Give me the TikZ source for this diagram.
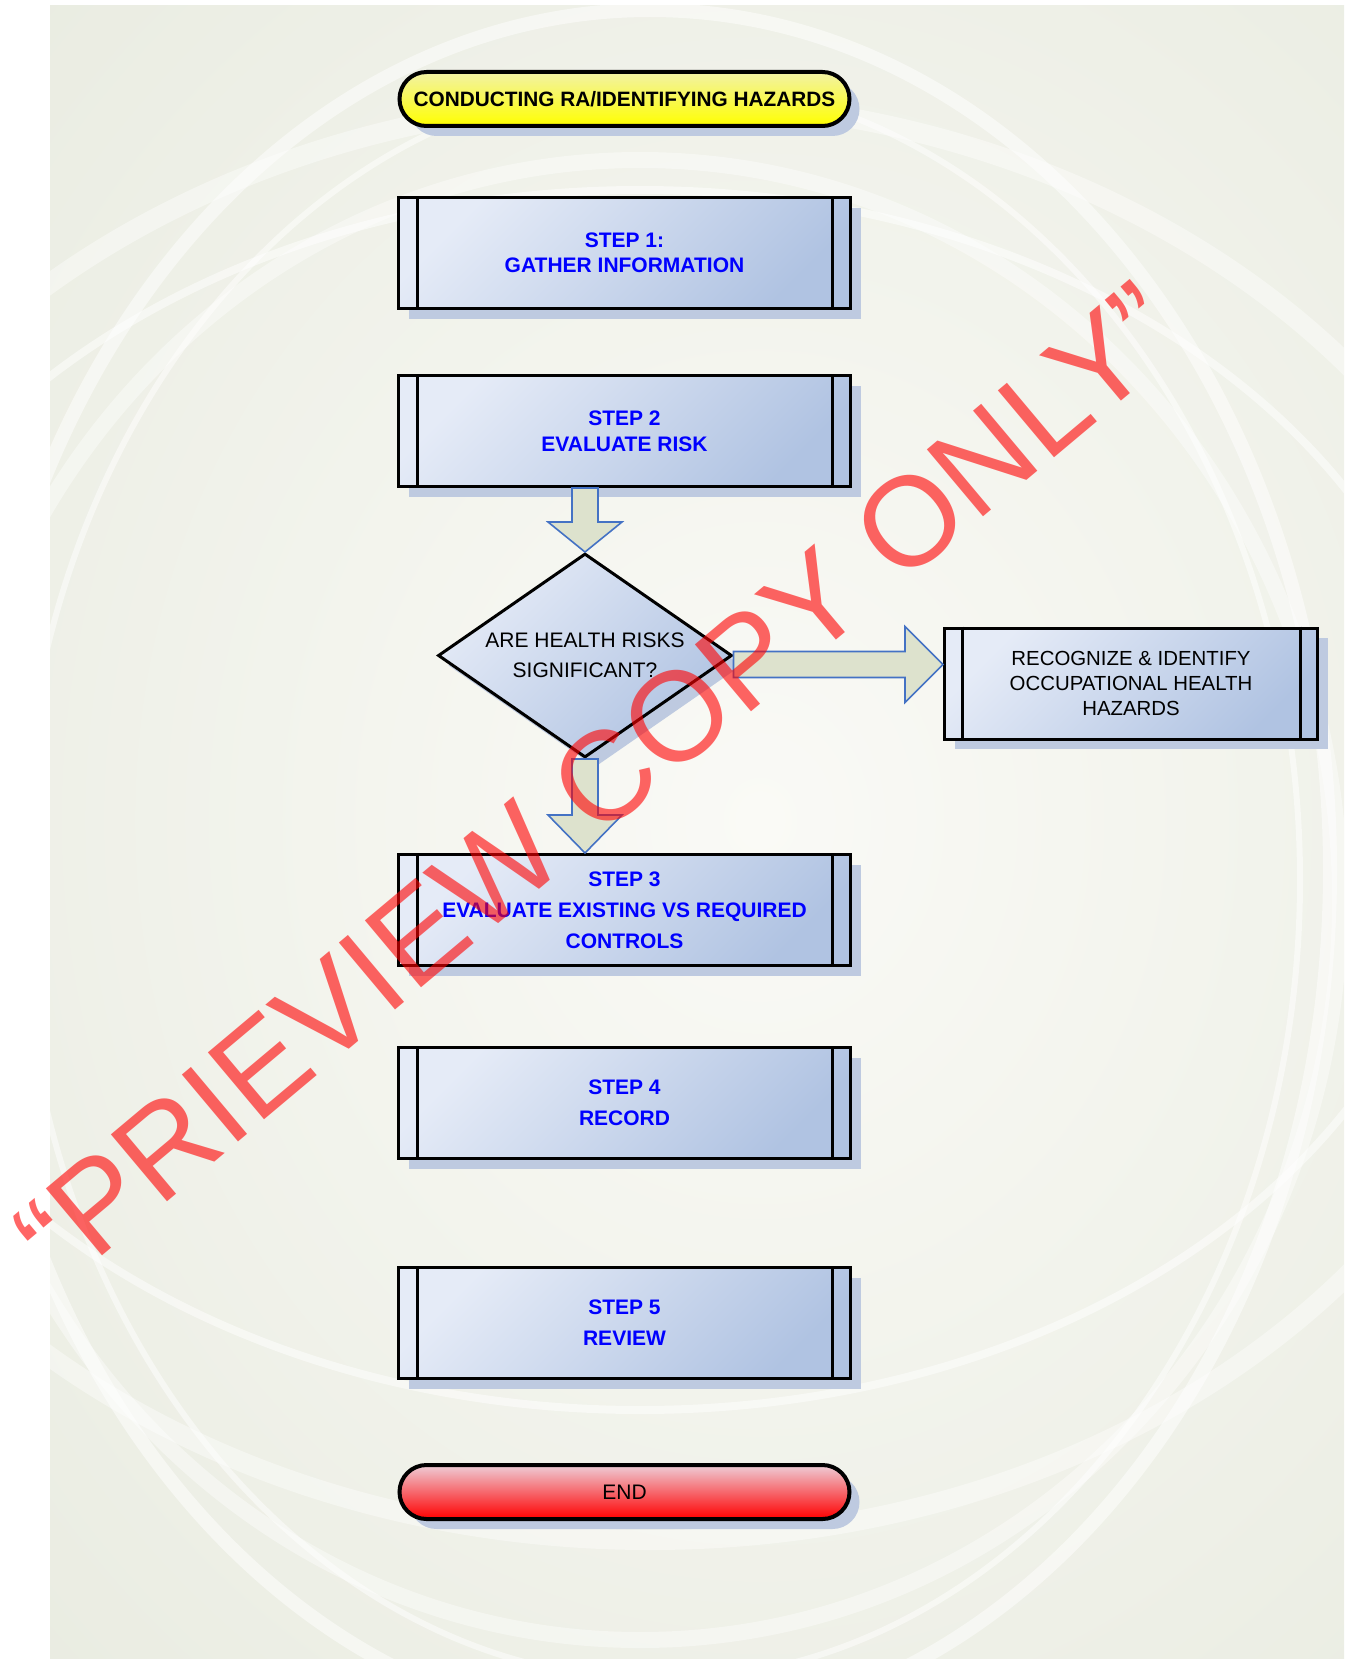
\documentclass[tikz,border=0pt]{standalone}
\usepackage{fontspec}
\setmainfont{Liberation Sans}
\usetikzlibrary{shapes.geometric,positioning,calc,shadows}

\definecolor{bgout}{RGB}{230,233,221}
\definecolor{bgin}{RGB}{250,250,246}
\definecolor{boxlight}{RGB}{229,235,247}
\definecolor{boxdark}{RGB}{176,195,226}
\definecolor{shadowblue}{RGB}{190,202,224}
\definecolor{arrowfill}{RGB}{221,226,205}
\definecolor{arrowline}{RGB}{68,114,196}
\definecolor{stepblue}{RGB}{0,0,255}
\definecolor{pillyellow}{RGB}{242,242,165}
\definecolor{endpink}{RGB}{238,205,215}

\tikzstyle{shadowed} = [drop shadow={shadow xshift=5pt, shadow yshift=-5pt, fill=shadowblue, opacity=1}]
\tikzstyle{stepbox} = [rectangle, draw, line width=1.5pt, minimum width=226pt,
minimum height=55.5pt, align=center, top color=boxlight, bottom color=boxdark,
shading angle=45, text=stepblue, font=\fontsize{10.5}{15.5}\selectfont\bfseries, shadowed]
\tikzstyle{hazbox} = [stepbox, minimum width=186.5pt, text=black, font=\fontsize{10.2}{12.5}\selectfont]
\tikzstyle{pill} = [rectangle, rounded corners=13.5pt, draw, line width=2pt, minimum width=225pt,
minimum height=27pt, align=center, shading angle=45, shadowed]
\tikzstyle{decision} = [diamond, draw, line width=1.5pt, aspect=1.44, minimum width=147pt,
minimum height=102pt, inner sep=0pt, align=center, top color=boxlight, bottom color=boxdark,
shading angle=45, font=\fontsize{10.5}{14.8}\selectfont, shadowed]
\tikzstyle{bar} = [line width=1.5pt]
\tikzstyle{blockarrow} = [fill=arrowfill, draw=arrowline, line width=0.8pt, line join=miter]
\tikzstyle{swirl} = [draw=white, opacity=0.5]

\begin{document}
\begin{tikzpicture}[x=0.5pt, y=-0.5pt]
  \useasboundingbox (0,0) rectangle (1348,1659);

  % background
  \begin{scope}
    \clip (50,6) rectangle (1344,1659);
    \fill[bgout] (50,6) rectangle (1344,1659);
    \shade[inner color=bgin, outer color=bgout] (760,820) ellipse [x radius=1250, y radius=1450];
    \draw[swirl, line width=7pt] (650,870) ellipse [x radius=680, y radius=860];
    \draw[swirl, line width=3pt] (660,880) ellipse [x radius=640, y radius=800];
    \draw[swirl, line width=8pt, opacity=0.4] (640,900) ellipse [x radius=700, y radius=740];
    \draw[swirl, line width=10pt, opacity=0.4] (650,820) ellipse [x radius=900, y radius=720];
    \draw[swirl, line width=4pt] (640,800) ellipse [x radius=820, y radius=610];
  \end{scope}

  \node (title) [pill, top color=pillyellow, bottom color=yellow,
    font=\fontsize{10.4}{12}\selectfont\bfseries] at (624.5,99) {CONDUCTING RA/IDENTIFYING HAZARDS};
  \node (step1) [stepbox, below=34pt of title, font=\fontsize{10.5}{12.5}\selectfont\bfseries]
    {STEP 1:\\GATHER INFORMATION};
  \node (step2) [stepbox, below=32pt of step1, font=\fontsize{10.5}{13.2}\selectfont\bfseries]
    {STEP 2\\EVALUATE RISK};
  \node (dia) [decision, below=32pt of step2, xshift=-19.75pt] {ARE HEALTH RISKS\\SIGNIFICANT?};
  \node (recog) [hazbox, right=104.75pt of dia, yshift=-14pt]
    {RECOGNIZE \& IDENTIFY\\OCCUPATIONAL HEALTH\\HAZARDS};
  \node (step3) [stepbox, below=47pt of dia, xshift=19.75pt]
    {STEP 3\\EVALUATE EXISTING VS REQUIRED\\CONTROLS};
  \node (step4) [stepbox, below=39.5pt of step3] {STEP 4\\RECORD};
  \node (step5) [stepbox, below=53pt of step4] {STEP 5\\REVIEW};
  \node (end) [pill, below=41.5pt of step5, top color=endpink, bottom color=red,
    font=\fontsize{10.5}{12}\selectfont] {END};

  % side bars
  \draw[bar] ([xshift=10pt]step1.north west) -- ([xshift=10pt]step1.south west);
  \draw[bar] ([xshift=-10pt]step1.north east) -- ([xshift=-10pt]step1.south east);
  \draw[bar] ([xshift=10pt]step2.north west) -- ([xshift=10pt]step2.south west);
  \draw[bar] ([xshift=-10pt]step2.north east) -- ([xshift=-10pt]step2.south east);
  \draw[bar] ([xshift=10pt]step3.north west) -- ([xshift=10pt]step3.south west);
  \draw[bar] ([xshift=-10pt]step3.north east) -- ([xshift=-10pt]step3.south east);
  \draw[bar] ([xshift=10pt]step4.north west) -- ([xshift=10pt]step4.south west);
  \draw[bar] ([xshift=-10pt]step4.north east) -- ([xshift=-10pt]step4.south east);
  \draw[bar] ([xshift=10pt]step5.north west) -- ([xshift=10pt]step5.south west);
  \draw[bar] ([xshift=-10pt]step5.north east) -- ([xshift=-10pt]step5.south east);
  \draw[bar] ([xshift=9.5pt]recog.north west) -- ([xshift=9.5pt]recog.south west);
  \draw[bar] ([xshift=-9.5pt]recog.north east) -- ([xshift=-9.5pt]recog.south east);

  % block arrows
  \coordinate (a1) at (dia.north |- step2.south);
  \draw[blockarrow] ($(a1)+(-13,0)$) -- ($(dia.north)+(-13,-30)$) -- ($(dia.north)+(-37,-30)$)
    -- (dia.north) -- ($(dia.north)+(37,-30)$) -- ($(dia.north)+(13,-30)$) -- ($(a1)+(13,0)$) -- cycle;
  \coordinate (a2) at (dia.south |- step3.north);
  \draw[blockarrow] ($(dia.south)+(-13,0)$) -- ($(a2)+(-13,-38)$) -- ($(a2)+(-37,-38)$)
    -- (a2) -- ($(a2)+(37,-38)$) -- ($(a2)+(13,-38)$) -- ($(dia.south)+(13,0)$) -- cycle;
  \coordinate (a3) at ($(dia.east)+(0,9)$);
  \coordinate (a4) at (recog.west |- a3);
  \draw[blockarrow] ($(a3)+(0,-13)$) -- ($(a4)+(-38,-13)$) -- ($(a4)+(-38,-38)$)
    -- (a4) -- ($(a4)+(-38,38)$) -- ($(a4)+(-38,13)$) -- ($(a3)+(0,13)$) -- cycle;

  % watermark
  \node (mark) [anchor=base west, rotate=40, inner sep=0pt, text=red, text opacity=0.6,
    font=\fontsize{63.5}{70}\selectfont] at (62,1290) {“PRIEVIEW COPY ONLY”};
\end{tikzpicture}
\end{document}
